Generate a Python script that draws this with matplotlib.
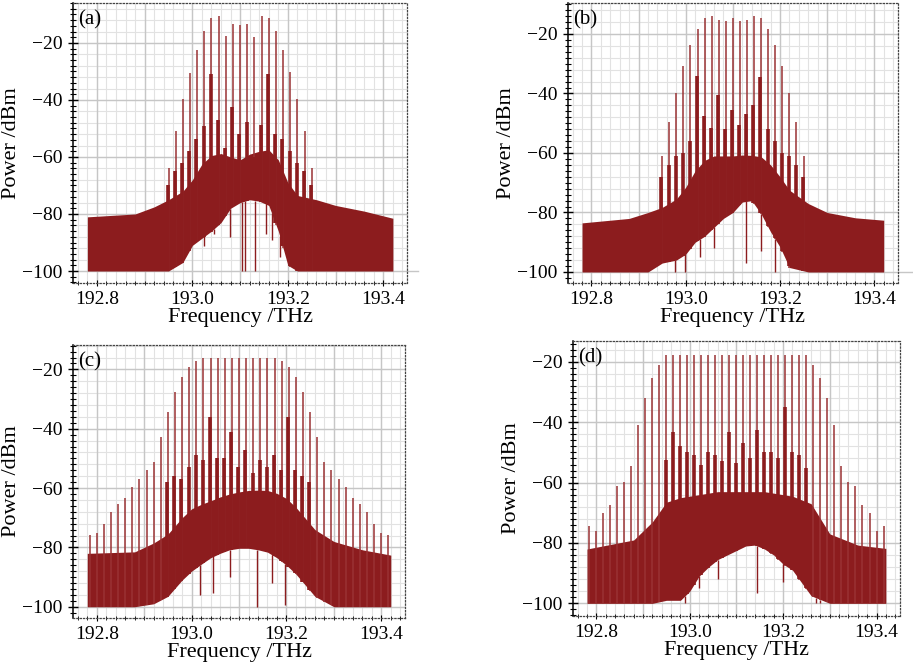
import numpy as np
import matplotlib
matplotlib.use('Agg')
from matplotlib import pyplot as plt
from matplotlib.ticker import MultipleLocator, FormatStrFormatter

plt.rcParams['font.family'] = ['Liberation Serif', 'DejaVu Serif']
plt.rcParams['font.size'] = 14

red = '#8c1c1e'
red_thin = '#9a3234'

# comb: 15 GHz line spacing around 193.1 THz
f_center = 193.1
f_step = 0.015

# noise floor envelope, sampled frequencies (THz)
env_f = [192.78, 192.88, 192.92, 192.95, 192.98, 193.00, 193.02, 193.04, 193.06, 193.08, 193.10,
         193.12, 193.14, 193.16, 193.18, 193.20, 193.22, 193.26, 193.30, 193.36, 193.42]

# ---- (a)
upper_a = [-81, -80, -77.5, -75, -72, -68, -62.5, -59.5, -58.8, -60, -61,
           -59, -58, -57.5, -61, -69, -73.5, -75, -77, -79, -81.5]
lower_a = [-100, -100, -100, -100, -97, -91, -88.5, -86, -83, -78, -76,
           -75, -75.5, -77, -86, -98, -100, -100, -100, -100, -100]
comb_k_a = list(range(-10, 11))
comb_a = [-64, -50.8, -39.7, -30.5, -22.4, -15.7, -11.2, -10.7, -17.4, -13.3, -13.7,
          -13.3, -17.9, -10.4, -11.2, -15.7, -22.4, -30.3, -39.7, -51, -64]
skirt_a = [-70, -65, -62, -58, -53.6, -49, -31, -47, -57, -42.6, -52,
           -47.8, -60, -48.8, -31, -52, -53.6, -58, -62, -65, -70]
dip_f_a = [193.025, 193.045, 193.079, 193.1035, 193.11, 193.131, 193.155, 193.166, 193.183]
dip_lo_a = [-91.4, -87, -88, -100, -100, -100, -87, -89, -95]

# ---- (b)
upper_b = [-83.5, -82, -80, -78.3, -75.5, -71.5, -66, -62.5, -61, -61, -61,
           -60.7, -60.8, -61.3, -64, -68, -72.5, -77, -80, -81.8, -82.6]
lower_b = [-100, -100, -100, -97, -96, -94, -90, -88, -85, -82, -80,
           -76.5, -76, -80.5, -86.5, -91.6, -98.5, -100, -100, -100, -100]
comb_k_b = list(range(-10, 11))
comb_b = [-60.9, -49.7, -39.8, -30.9, -23.6, -18.3, -14.6, -14.1, -15.2, -15.5, -14.6,
          -15.5, -15.2, -14.1, -14.6, -18.3, -23.6, -30.9, -39.8, -49.7, -60.9]
skirt_b = [-68, -64, -61, -60, -56, -34, -47.7, -51.7, -40.4, -51.8, -45.4,
           -50.5, -47, -44, -34.4, -51.8, -56, -60, -61, -64, -68]
dip_f_b = [192.977, 192.999, 193.03, 193.06, 193.128, 193.16, 193.19]
dip_lo_b = [-100, -100, -95, -92, -97, -93, -100]

# ---- (c)
upper_c = [-82, -81.5, -78.5, -75.5, -70, -67, -65.5, -64.3, -63, -62, -61.3,
           -60.8, -60.7, -60.8, -61.8, -63.5, -66.5, -74, -78, -80.8, -82.6]
lower_c = [-100, -100, -99, -96.5, -91, -88, -85.7, -83.5, -82, -80.8, -80.3,
           -80.3, -80.8, -81.6, -83.5, -86, -89, -96.5, -100, -100, -100]
comb_k_c = list(range(-21, 22))
comb_c = [-75.8, -75.3, -72, -68, -65.2, -63.5, -59.6, -56.8, -54, -51.2, -42.9,
          -34.3, -27.5, -22.5, -19.3, -17.1, -16.3, -16.3, -16.3, -16.3, -16.3, -16.3,
          -16.3, -16.3, -16.3, -16.3, -16.3, -17.1, -19.3, -22.5, -27.5, -34.3,
          -42.9, -51.2, -54, -56.8, -59.6, -63.5, -65.2, -68, -72, -75.3, -75.8]
skirt_k_c = list(range(-10, 11))
skirt_c = [-58, -56, -57, -52.8, -48.9, -50.6, -36, -50, -50, -41, -52.8,
           -47.2, -55, -50.6, -53, -48.9, -54, -36, -54, -56, -58]
dip_f_c = [193.017, 193.046, 193.08, 193.137, 193.17, 193.197]
dip_lo_c = [-96, -95.5, -90, -100, -92, -99.5]

# ---- (d)
upper_d = [-82, -79, -73, -66.5, -65, -64.5, -64, -63.5, -63, -63, -63,
           -63, -63, -63, -63.5, -64, -64.5, -67, -77, -80.7, -81.8]
lower_d = [-100, -100, -100, -99, -99, -96, -91, -88, -85.5, -84, -82.5,
           -81, -80.7, -82, -84, -87, -89, -97.5, -100, -100, -100]
comb_k_d = list(range(-21, 22))
comb_d = [-74.5, -76, -70, -67.5, -61, -59.7, -54.5, -41, -31.9, -25.5, -21.1,
          -17.8, -17.8, -17.8, -17.8, -17.8, -17.8, -17.8, -17.8, -17.8, -17.8, -17.8,
          -17.8, -17.8, -17.8, -17.8, -17.8, -17.8, -17.8, -17.8, -17.8, -17.8,
          -21.1, -25.5, -31.9, -41, -54.5, -59.7, -61, -67.5, -70, -76, -74.5]
skirt_k_d = list(range(-10, 11))
skirt_d = [-52.5, -43.2, -48, -50, -51, -54, -50, -51, -53, -43.2, -53.6,
           -47, -52, -42.6, -50, -50, -52, -34.9, -50, -51, -55]
dip_f_d = [192.99, 193.02, 193.06, 193.145, 193.2, 193.271, 193.28]
dip_lo_d = [-100, -95, -92, -96.6, -93, -100, -100]


def draw_panel(ax, tag, upper, lower, comb_k, comb, skirt_k, skirt, dip_f, dip_lo, ylim, extend=None):
    ax.set_xlim(192.75, 193.45)
    ax.set_ylim(*ylim)

    # grid, drawn by hand: majors 0.1 THz / 20 dB, minors 0.02 THz / 4 dB
    for x in np.arange(192.76, 193.45, 0.02):
        ax.axvline(x, color='#e2e2e2', lw=0.8, zorder=0)
    for y in np.arange(-100, ylim[1], 4):
        ax.axhline(y, color='#e2e2e2', lw=0.8, zorder=0)
    for x in np.arange(192.8, 193.45, 0.1):
        ax.axvline(x, color='#c6c6c6', lw=1.0, zorder=0)
    for y in np.arange(-100, ylim[1], 20):
        ax.axhline(y, color='#c6c6c6', lw=1.0, zorder=0)
    if extend is not None:
        ax.plot([193.45, 193.45 + extend], [-100, -100], color='#c6c6c6', lw=1.0, clip_on=False)

    # noise floor
    ax.fill_between(env_f, lower, upper, color=red, lw=0, zorder=2)

    # dark lines hanging below the noise
    dip_top = np.interp(dip_f, env_f, lower)
    ax.vlines(dip_f, dip_lo, dip_top, color=red, lw=1.0, zorder=3)

    # comb lines
    cf = f_center + f_step * np.array(comb_k)
    ax.vlines(cf, np.interp(cf, env_f, lower), comb, color=red_thin, lw=1.1, zorder=3)
    sf = f_center + f_step * np.array(skirt_k) - 0.0015
    ax.vlines(sf, np.interp(sf, env_f, lower), skirt, color=red, lw=2.6, zorder=3)

    ax.xaxis.set_major_locator(MultipleLocator(0.2))
    ax.xaxis.set_major_formatter(FormatStrFormatter('%.1f'))
    ax.xaxis.set_minor_locator(MultipleLocator(0.02))
    ax.yaxis.set_major_locator(MultipleLocator(20))
    ax.yaxis.set_minor_locator(MultipleLocator(2))
    ax.tick_params(axis='y', which='major', direction='inout', length=7, width=1, pad=4)
    ax.tick_params(axis='y', which='minor', direction='inout', length=4, width=0.8)
    ax.tick_params(axis='x', which='major', direction='inout', length=4, width=0.8, pad=4)
    ax.tick_params(axis='x', which='minor', direction='inout', length=2.5, width=0.6)

    for s in ['top', 'right', 'bottom']:
        ax.spines[s].set_linestyle(':')
        ax.spines[s].set_color('#444444')
        ax.spines[s].set_linewidth(0.9)
    ax.spines['left'].set_linewidth(1.1)

    ax.set_xlabel('Frequency /THz', fontsize=16, labelpad=0)
    ax.set_ylabel('Power /dBm', fontsize=16, labelpad=1)
    ax.text(0.015, 0.975, tag, transform=ax.transAxes, ha='left', va='top', fontsize=15, zorder=5)


fig = plt.figure(figsize=(9.13, 6.69), dpi=100)

ax_a = fig.add_axes([0.080, 0.577, 0.366, 0.4185])
draw_panel(ax_a, '(a)', upper_a, lower_a, comb_k_a, comb_a, comb_k_a, skirt_a,
           dip_f_a, dip_lo_a, (-104.2, -6), extend=0.023)

ax_b = fig.add_axes([0.622, 0.577, 0.3614, 0.4185])
draw_panel(ax_b, '(b)', upper_b, lower_b, comb_k_b, comb_b, comb_k_b, skirt_b,
           dip_f_b, dip_lo_b, (-103.7, -9.6), extend=0.032)

ax_c = fig.add_axes([0.080, 0.0762, 0.3636, 0.408])
draw_panel(ax_c, '(c)', upper_c, lower_c, comb_k_c, comb_c, skirt_k_c, skirt_c,
           dip_f_c, dip_lo_c, (-103.8, -11.8))

ax_d = fig.add_axes([0.6276, 0.0792, 0.358, 0.411])
draw_panel(ax_d, '(d)', upper_d, lower_d, comb_k_d, comb_d, skirt_k_d, skirt_d,
           dip_f_d, dip_lo_d, (-104.2, -13.1))

fig.savefig('out.png', dpi=100)
